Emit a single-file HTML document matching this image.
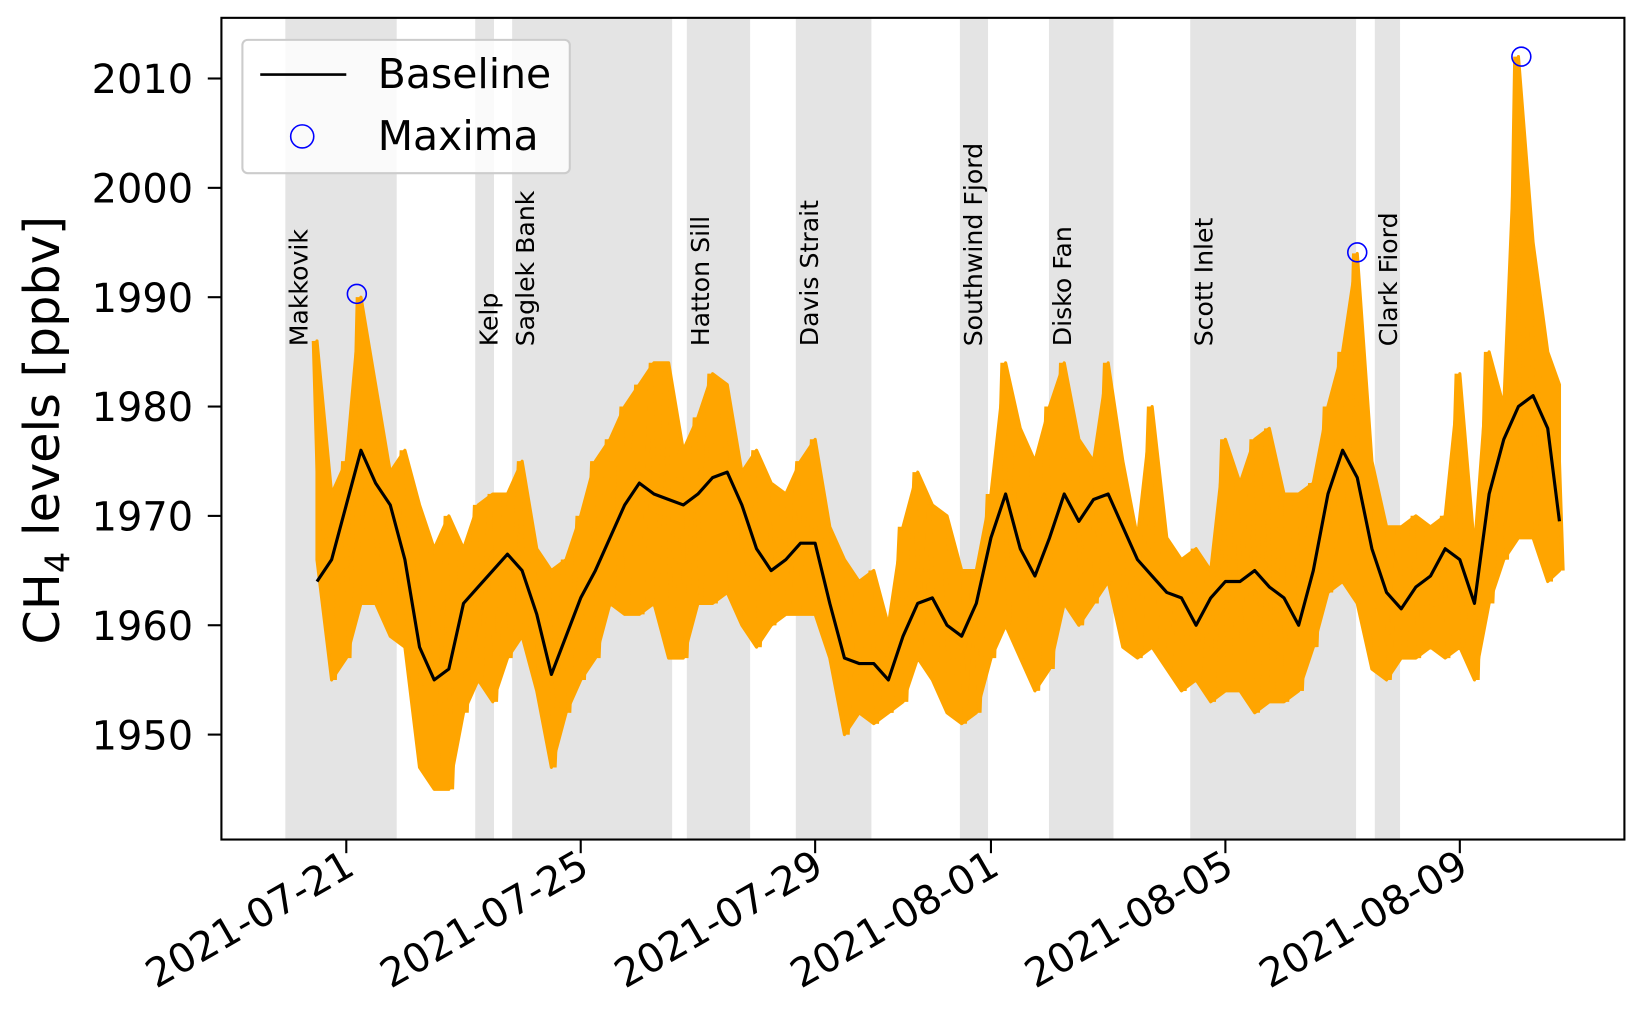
<!DOCTYPE html>
<html><head><meta charset="utf-8"><style>
html,body{margin:0;padding:0;background:#fff;}
svg{display:block;font-family:"DejaVu Sans","Liberation Sans",sans-serif;}
</style></head><body>
<svg id="chart" width="1637" height="1032" viewBox="0 0 1560 983.4" preserveAspectRatio="none" xmlns="http://www.w3.org/2000/svg">
<g id="shade"></g>
<g id="labels"></g>
<g id="series"></g>
<g id="base"></g>
<g id="maxima"></g>
<rect x="211" y="17" width="1337" height="783" fill="none" stroke="#000" stroke-width="2"/>
<g id="axes"></g>
<text transform="translate(56,410) rotate(-90)" text-anchor="middle" font-size="47">CH<tspan font-size="32" dy="10">4</tspan><tspan dy="-10"> levels [ppbv]</tspan></text>
<g>
<rect x="231" y="38" width="312" height="127" rx="5" fill="#fff" fill-opacity="0.8" stroke="#ccc" stroke-width="2"/>
<line x1="248" y1="71" x2="330" y2="71" stroke="#000" stroke-width="2.5"/>
<text x="360" y="84" font-size="39">Baseline</text>
<circle cx="288" cy="130" r="11" fill="none" stroke="#00f" stroke-width="1.5"/>
<text x="360" y="143" font-size="39">Maxima</text>
</g>
</svg>
<script>
const days = [-0.5,-0.25,0,0.25,0.5,0.75,1,1.25,1.5,1.75,2,2.25,2.5,2.75,3,3.25,3.5,3.75,4,4.25,4.5,4.75,5,5.25,5.5,5.75,6,6.25,6.5,6.75,7,7.25,7.5,7.75,8,8.25,8.5,8.75,9,9.25,9.5,9.75,10,10.25,10.5,10.75,11,11.25,11.5,11.75,12,12.25,12.5,12.75,13,13.25,13.5,13.75,14,14.25,14.5,14.75,15,15.25,15.5,15.75,16,16.25,16.5,16.75,17,17.25,17.5,17.75,18,18.25,18.5,18.75,19,19.25,19.5,19.75,20,20.25,20.5,20.7];
const upper = [1986,1972,1975,1990,1982,1974,1976,1971,1967,1970,1967,1971,1972,1972,1975,1967,1965,1966,1970,1975,1977,1980,1982,1984,1984,1976,1979,1983,1982,1974,1976,1973,1972,1975,1977,1969,1966,1964,1965,1960,1969,1974,1971,1970,1965,1965,1972,1984,1978,1975,1980,1984,1977,1975,1984,1975,1968,1980,1968,1966,1967,1965,1977,1973,1977,1978,1972,1972,1973,1980,1985,1994,1975,1969,1969,1970,1969,1970,1983,1967,1985,1980,2012,1995,1985,1982];
const lower = [1966,1955,1957,1962,1962,1959,1958,1947,1945,1945,1952,1955,1953,1957,1959,1954,1947,1952,1955,1957,1962,1961,1961,1962,1957,1957,1962,1962,1963,1960,1958,1960,1961,1961,1961,1957,1950,1952,1951,1952,1953,1957,1955,1952,1951,1952,1957,1960,1957,1954,1956,1962,1960,1962,1964,1958,1957,1958,1956,1954,1955,1953,1954,1954,1952,1953,1953,1954,1958,1963,1964,1962,1956,1955,1957,1957,1958,1957,1958,1955,1962,1966,1968,1968,1964,1965];
const baseline = [1964,1966,1971,1976,1973,1971,1966,1958,1955,1956,1962,1963.5,1965,1966.5,1965,1961,1955.5,1959,1962.5,1965,1968,1971,1973,1972,1971.5,1971,1972,1973.5,1974,1971,1967,1965,1966,1967.5,1967.5,1962,1957,1956.5,1956.5,1955,1959,1962,1962.5,1960,1959,1962,1968,1972,1967,1964.5,1968,1972,1969.5,1971.5,1972,1969,1966,1964.5,1963,1962.5,1960,1962.5,1964,1964,1965,1963.5,1962.5,1960,1965,1972,1976,1973.5,1967,1963,1961.5,1963.5,1964.5,1967,1966,1962,1972,1977,1980,1981,1978,1969.5];
const maxDays = [0.18,17.25,20.05];
const maxVals = [1990.3,1994.1,2012];
const regionNames = ["Makkovik","Kelp","Saglek Bank","Hatton Sill","Davis Strait","Southwind Fjord","Disko Fan","Scott Inlet","Clark Fiord"];
const regionStart = [-1.04,2.2,2.83,5.81,7.67,10.47,11.99,14.4,17.55];
const regionEnd = [0.86,2.52,5.56,6.89,8.96,10.95,13.09,17.23,17.98];
const yTicks = [1950,1960,1970,1980,1990,2000,2010];
const xTickDays = [0,4,8,11,15,19];
const xTickLabels = ["2021-07-21","2021-07-25","2021-07-29","2021-08-01","2021-08-05","2021-08-09"];

const NS="http://www.w3.org/2000/svg";
function X(d){return 330+d*55.85;}
function Y(v){return 700-(v-1950)*10.42;}
function mk(tag,attrs,parent){const e=document.createElementNS(NS,tag);for(const k in attrs)e.setAttribute(k,attrs[k]);parent.appendChild(e);return e;}

const shade=document.getElementById('shade'), labels=document.getElementById('labels');
regionNames.forEach((n,i)=>{
  const r=mk('rect',{x:X(regionStart[i]),y:17,width:X(regionEnd[i])-X(regionStart[i]),height:783,fill:'#e4e4e4'},shade);
  
  
  const tx=X(regionStart[i])+21;
  const t=mk('text',{transform:`translate(${tx},330) rotate(-90)`,'font-size':'24'},labels);
  t.textContent=n;
  
  
});

const series=document.getElementById('series');
let pts=days.map((d,i)=>X(d)+','+Y(upper[i]));
for(let i=days.length-1;i>=0;i--)pts.push(X(days[i])+','+Y(lower[i]));
const area=mk('polygon',{points:pts.join(' '),fill:'#ffa500',stroke:'#ffa500','stroke-width':'3','stroke-linejoin':'round'},series);


let zz=[];
days.forEach((d,i)=>{zz.push(X(d)-3+','+Y(upper[i]));zz.push(X(d)+3+','+Y(lower[i]));});
const zig=mk('polyline',{points:zz.join(' '),fill:'none',stroke:'#ffa500','stroke-width':'4'},series);



const base=document.getElementById('base');
const bl=mk('polyline',{points:days.map((d,i)=>X(d)+','+Y(baseline[i])).join(' '),fill:'none',stroke:'#000','stroke-width':'3','stroke-linejoin':'round'},base);



const mx=document.getElementById('maxima');
maxDays.forEach((d,i)=>{
  const c=mk('circle',{cx:X(d),cy:Y(maxVals[i]),r:9,fill:'none',stroke:'#00f','stroke-width':'1.5'},mx);
  
  
});

const axes=document.getElementById('axes');
yTicks.forEach(v=>{
  const l=mk('line',{x1:198,x2:211,y1:Y(v),y2:Y(v),stroke:'#000','stroke-width':'2'},axes);
  
  
  const t=mk('text',{x:184,y:Y(v)+14,'text-anchor':'end','font-size':'38'},axes);
  t.textContent=v;
  
  
});
xTickDays.forEach((d,i)=>{
  const x=X(d);
  const l=mk('line',{x1:x,x2:x,y1:800,y2:813,stroke:'#000','stroke-width':'2'},axes);
  
  
  const t=mk('text',{transform:`translate(${x+10},${832}) rotate(-30)`,'text-anchor':'end','font-size':'38'},axes);
  t.textContent=xTickLabels[i];
  
  
});
</script>
</body></html>
